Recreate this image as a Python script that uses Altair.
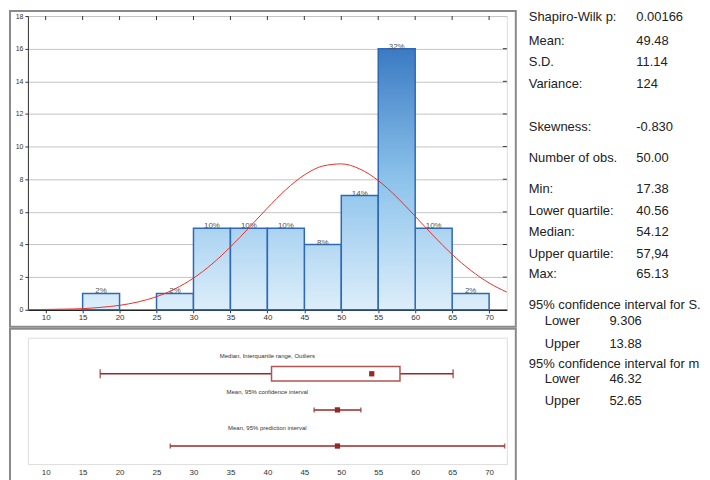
import altair as alt
import pandas as pd

# ---------------- data ----------------
bin_start = [15, 25, 30, 35, 40, 45, 50, 55, 60, 65]
counts = [1, 1, 5, 5, 5, 4, 7, 16, 5, 1]
BIN = 5

curve_x = [7.6, 10, 12.5, 15, 17.5, 20, 22.5, 25, 27.5, 30, 32.5, 35, 37.5, 40, 42.5,
           45, 47.5, 50, 52.5, 55, 57.5, 60, 62.5, 65, 67.5, 70, 72.4]
curve_y = [0.01, 0.02, 0.04, 0.07, 0.15, 0.27, 0.48, 0.80, 1.28, 1.94, 2.80, 3.85, 5.02,
           6.23, 7.36, 8.26, 8.81, 8.94, 8.63, 7.92, 6.91, 5.73, 4.52, 3.39, 2.42, 1.64, 1.08]

row_names = ["Median, Interquartile range, Outliers",
             "Mean, 95% confidence interval",
             "Mean, 95% prediction interval"]
v_min, v_q1, v_med, v_q3, v_max = 17.38, 40.56, 54.12, 57.94, 65.13
v_mean = 49.48
ci_lo, ci_hi = 46.32, 52.65
pi_lo, pi_hi = 26.86, 72.1

stat_labels = ["Shapiro-Wilk p:", "Mean:", "S.D.", "Variance:", "Skewness:",
               "Number of obs.", "Min:", "Lower quartile:", "Median:",
               "Upper quartile:", "Max:"]
stat_values = ["0.00166", "49.48", "11.14", "124", "-0.830", "50.00", "17.38",
               "40.56", "54.12", "57,94", "65.13"]
ci_headers = ["95% confidence interval for S.", "95% confidence interval for m"]
ci_labels = ["Lower", "Upper", "Lower", "Upper"]
ci_values = ["9.306", "13.88", "46.32", "52.65"]

x_ticks = list(range(10, 75, 5))
y_ticks = list(range(0, 19, 2))

# ---------------- layout ----------------
W, H1, H2 = 481, 295, 127
OX, OY = 27, 14  # page position of top plot origin
FONT = "Liberation Sans"
stat_y = [15, 39, 60, 82, 125, 157, 188, 210, 231, 253, 273]
ci_head_y = [304, 363]
ci_row_y = [320, 343, 379, 401]

xs = alt.Scale(domain=[7.6, 72.4], nice=False, zero=False)
ys = alt.Scale(domain=[0, 18], nice=False, zero=True)


def mix(c1, c2, t):
    a = [int(c1[i:i + 2], 16) for i in (1, 3, 5)]
    b = [int(c2[i:i + 2], 16) for i in (1, 3, 5)]
    return "#" + "".join(f"{round(a[i] + (b[i] - a[i]) * t):02x}" for i in range(3))


ANCH = [(0, "#ddeefa"), (8, "#8cc3eb"), (16, "#3b7ac3")]


def col(v):
    if v <= 8:
        return mix(ANCH[0][1], ANCH[1][1], v / 8)
    return mix(ANCH[1][1], ANCH[2][1], min(1, (v - 8) / 8))


def grad(c):
    stops = [alt.GradientStop(offset=0, color=col(c))]
    if c > 8:
        stops.append(alt.GradientStop(offset=(c - 8) / c, color=col(8)))
    stops.append(alt.GradientStop(offset=1, color=col(0)))
    return alt.Gradient(gradient="linear", stops=stops, x1=0, x2=0, y1=0, y2=1)


hist_df = pd.DataFrame({"start": bin_start, "n": counts})
hist_df["end"] = hist_df["start"] + BIN
hist_df["mid"] = hist_df["start"] + BIN / 2
hist_df["pct"] = (hist_df["n"] / hist_df["n"].sum() * 100).round().astype(int).astype(str) + "%"

x_axis = alt.Axis(values=x_ticks, title=None, grid=False, labelFontSize=8, tickSize=3,
                  labelPadding=1, domainColor="#222", domainWidth=1.5, tickColor="#333",
                  labelColor="#333", labelFont=FONT)
y_axis = alt.Axis(values=y_ticks, title=None, grid=True, gridColor="#c4c4c4", gridWidth=1,
                  labelFontSize=7, tickSize=3, labelPadding=2, domainColor="#333",
                  tickColor="#333", labelColor="#333", labelFont=FONT)


def X(f):
    return alt.X(f, scale=xs, axis=x_axis)


def Y(f):
    return alt.Y(f, scale=ys, axis=y_axis)


one = alt.Data(values=[{}])

frame1 = alt.Chart(one).mark_rect(fillOpacity=0, stroke="#8a8a8a", strokeWidth=2).encode(
    x=alt.value(-18), x2=alt.value(W + 9), y=alt.value(-5), y2=alt.value(H1 + 17))

bar_layers = []
for c in sorted(set(counts)):
    bar_layers.append(
        alt.Chart(hist_df).transform_filter(f"datum.n == {c}").mark_rect(
            fill=grad(c), stroke="#2f68b4", strokeWidth=1.5).encode(
            x=X("start:Q"), x2="end:Q", y=Y("n:Q"), y2=alt.datum(0)))

pct_text = alt.Chart(hist_df).mark_text(fontSize=8, color="#555", baseline="bottom", dy=2,
                                        font=FONT).encode(
    x=X("mid:Q"), y=Y("n:Q"), text="pct:N")

curve = alt.Chart(pd.DataFrame({"x": curve_x, "y": curve_y})).mark_line(
    color="#e8302a", strokeWidth=1, interpolate="monotone", clip=True).encode(
    x=X("x:Q"), y=Y("y:Q"))

top_ticks = alt.Chart(pd.DataFrame({"t": x_ticks})).mark_rule(color="#333").encode(
    x=X("t:Q"), y=alt.value(0), y2=alt.value(4))
right_ticks = alt.Chart(pd.DataFrame({"t": y_ticks[1:-1]})).mark_rule(color="#333").encode(
    y=Y("t:Q"), x=alt.value(W - 4), x2=alt.value(W))

# stats text
rows = []
for lab, val, yy in zip(stat_labels, stat_values, stat_y):
    rows.append({"t": lab, "px": 530 - OX, "py": yy - OY})
    rows.append({"t": val, "px": 638 - OX, "py": yy - OY})
for lab, yy in zip(ci_headers, ci_head_y):
    rows.append({"t": lab, "px": 530 - OX, "py": yy - OY})
for lab, val, yy in zip(ci_labels, ci_values, ci_row_y):
    rows.append({"t": lab, "px": 546 - OX, "py": yy - OY})
    rows.append({"t": val, "px": 611 - OX, "py": yy - OY})
stats = alt.Chart(pd.DataFrame(rows)).mark_text(
    align="left", baseline="middle", fontSize=13, color="#222", font=FONT).encode(
    x=alt.X("px:Q", scale=None, axis=None), y=alt.Y("py:Q", scale=None, axis=None), text="t:N")

hist = alt.layer(frame1, *bar_layers, pct_text, curve, top_ticks, right_ticks, stats).properties(
    width=W, height=H1)

# ---------------- box panel ----------------
xs2 = alt.Scale(domain=[7.6, 72.4], nice=False, zero=False)
rs = alt.Scale(domain=[0, 3.5], reverse=True)
RED = "#972828"

lab_df = pd.DataFrame({"row": [1, 2, 3], "name": row_names})
seg_df = pd.DataFrame({"row": [1, 1, 2, 3], "a": [v_min, v_q3, ci_lo, pi_lo],
                       "b": [v_q1, v_max, ci_hi, pi_hi]})
cap1_df = pd.DataFrame({"row": [1, 1], "v": [v_min, v_max]})
cap2_df = pd.DataFrame({"row": [2, 2, 3, 3], "v": [ci_lo, ci_hi, pi_lo, pi_hi]})
box_df = pd.DataFrame({"row": [1], "a": [v_q1], "b": [v_q3]})
pt_df = pd.DataFrame({"row": [1, 2, 3], "v": [v_med, v_mean, v_mean]})

x_axis2 = alt.Axis(values=x_ticks, title=None, grid=False, labelFontSize=8, ticks=False,
                   domain=False, labelPadding=4, labelColor="#333", labelFont=FONT)


def X2(f):
    return alt.X(f, scale=xs2, axis=x_axis2)


def R(f):
    return alt.Y(f, scale=rs, axis=None)


frame2 = alt.Chart(one).mark_rect(fillOpacity=0, stroke="#8a8a8a", strokeWidth=2).encode(
    x=alt.value(-18), x2=alt.value(W + 9), y=alt.value(-9), y2=alt.value(H2 + 40))

labels = alt.Chart(lab_df).transform_calculate(ly="datum.row - 0.5").mark_text(
    fontSize=6, color="#333", font=FONT, baseline="middle").encode(
    x=alt.value(W / 2), y=R("ly:Q"), text="name:N")

segs = alt.Chart(seg_df).mark_rule(color=RED, strokeWidth=1.5).encode(
    x=X2("a:Q"), x2="b:Q", y=R("row:Q"))

caps1 = alt.Chart(cap1_df).mark_tick(color=RED, orient="vertical", size=9, thickness=1.5).encode(
    x=X2("v:Q"), y=R("row:Q"))
caps2 = alt.Chart(cap2_df).mark_tick(color=RED, orient="vertical", size=5, thickness=1.5).encode(
    x=X2("v:Q"), y=R("row:Q"))

box = alt.Chart(box_df).transform_calculate(
    y1="datum.row - 0.2", y2="datum.row + 0.2").mark_rect(
    fill="white", stroke="#b05454", strokeWidth=1.5).encode(
    x=X2("a:Q"), x2="b:Q", y=R("y1:Q"), y2="y2:Q")

pts = alt.Chart(pt_df).mark_square(color=RED, size=28, opacity=1).encode(
    x=X2("v:Q"), y=R("row:Q"))

boxpanel = alt.layer(frame2, labels, segs, caps1, caps2, box, pts).properties(width=W, height=H2)

chart = alt.vconcat(hist, boxpanel, spacing=28, bounds="flush").properties(
    padding=0).configure_view(stroke="#222", strokeWidth=1).configure(font=FONT)

chart.save("out.html", embed_options={"renderer": "svg", "actions": False})
